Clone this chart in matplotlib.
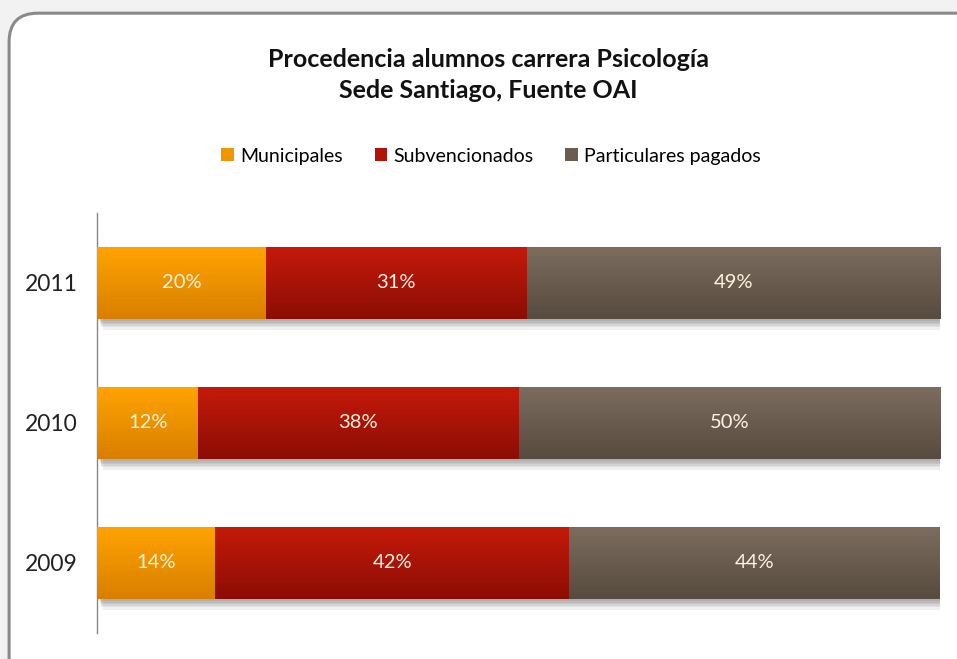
import numpy as np
import matplotlib.pyplot as plt
from matplotlib.patches import FancyBboxPatch, Patch
from matplotlib.colors import LinearSegmentedColormap
import matplotlib.patheffects as pe

plt.rcParams['font.family'] = ['Lato', 'DejaVu Sans']

years = ['2009', '2010', '2011']
municipales = [14, 12, 20]
subvencionados = [42, 38, 31]
particulares = [44, 50, 49]
series_names = ['Municipales', 'Subvencionados', 'Particulares pagados']
# top / bottom of the vertical gradient
colors_top = ['#FFA300', '#C41A0A', '#7B6C5E']
colors_bot = ['#D97F00', '#8C0D05', '#574B3F']
legend_colors = ['#F29600', '#B01308', '#6A5D50']

fig = plt.figure(figsize=(9.57, 6.59), dpi=100)
fig.patch.set_facecolor('#F2F2F2')

frame = FancyBboxPatch((0.0095, -0.05), 1.02, 1.03, transform=fig.transFigure,
                       boxstyle='round,pad=0,rounding_size=0.03',
                       facecolor='white', edgecolor='#8A8A8A', linewidth=2.2,
                       mutation_aspect=957 / 659, zorder=-5)
fig.patches.append(frame)

ax = fig.add_axes([0.1014, 0.0395, 0.881, 0.6375])
ax.set_facecolor('none')
ax.set_zorder(2)

values = [municipales, subvencionados, particulares]
y = np.arange(len(years))

# soft shadow under each full bar, built from a few faint layers
shadow = [pe.SimplePatchShadow(offset=(dx, -dy), shadow_rgbFace='#000000', alpha=0.06)
          for dx, dy in [(1, 2), (2, 3), (2, 4), (3, 5), (3, 6), (4, 8)]]
for yy in y:
    ax.barh(yy, 100, height=0.51, color='white', zorder=1, path_effects=shadow)

left = np.zeros(len(years))
grad = np.linspace(0, 1, 64).reshape(-1, 1)
for i, vals in enumerate(values):
    bars = ax.barh(y, vals, left=left, height=0.51, color=colors_top[i],
                   edgecolor='none', zorder=2)
    cmap = LinearSegmentedColormap.from_list('g%d' % i, [colors_top[i], colors_bot[i]])
    for b, v, l in zip(bars, vals, left):
        x0, y0 = b.get_x(), b.get_y()
        im = ax.imshow(grad, cmap=cmap, aspect='auto', interpolation='bicubic',
                       extent=(x0, x0 + b.get_width(), y0, y0 + b.get_height()),
                       origin='upper', zorder=3)
        im.set_clip_path(b)
        ax.text(l + v / 2, y0 + b.get_height() / 2, '%d%%' % v, ha='center', va='center',
                color='#FFF2E0', fontsize=14.5, zorder=4)
    left = left + np.array(vals)

ax.set_xlim(0, 100)
ax.set_ylim(-0.5, 2.5)
ax.set_yticks(y)
ax.set_yticklabels(years, fontsize=16.5, color='#222222')
ax.tick_params(axis='y', length=0, pad=14)
ax.set_xticks([])
for s in ['top', 'right', 'bottom']:
    ax.spines[s].set_visible(False)
ax.spines['left'].set_color('#888888')
ax.spines['left'].set_linewidth(1)

fig.text(0.51, 0.886, 'Procedencia alumnos carrera Psicología\nSede Santiago, Fuente OAI',
         ha='center', va='center', fontsize=18, fontweight='bold', linespacing=1.45,
         color='#111111')

handles = [Patch(facecolor=c, edgecolor='none') for c in legend_colors]
fig.legend(handles, series_names, loc='center', bbox_to_anchor=(0.513, 0.763), ncol=3,
           frameon=False, fontsize=14, handlelength=0.65, handleheight=0.65,
           handletextpad=0.3, columnspacing=1.65)

fig.savefig('out.png', dpi=100, facecolor=fig.get_facecolor())
